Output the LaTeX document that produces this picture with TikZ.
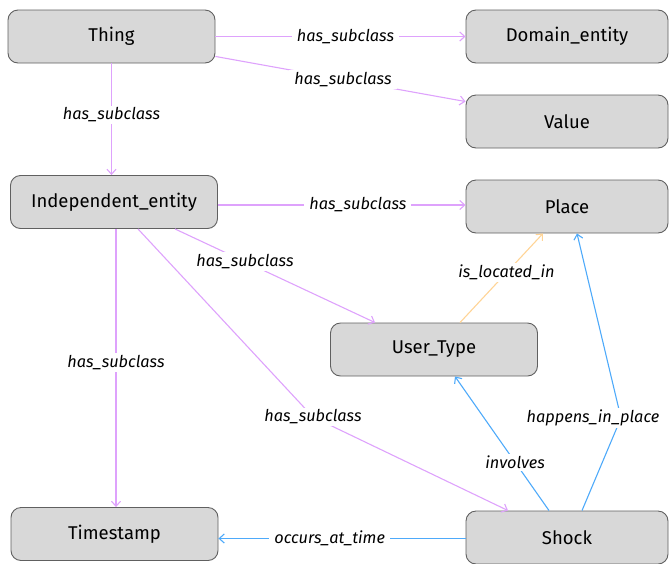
\documentclass[tikz,border=0pt]{standalone}
\usepackage{fontspec}
\setmainfont{Fira Sans}
\usetikzlibrary{arrows.meta}

\definecolor{boxgray}{RGB}{216,216,216}
\definecolor{boxline}{RGB}{96,96,96}
\definecolor{subviolet}{RGB}{222,162,252}
\definecolor{relblue}{RGB}{78,170,250}
\definecolor{locorange}{RGB}{255,212,150}

\tikzset{
  cls/.style={draw=boxline, fill=boxgray, line width=0.9pt, rounded corners=10pt,
              minimum width=207pt, minimum height=53pt, font=\fontsize{18.5}{20}\selectfont},
  rcls/.style={cls, minimum width=202pt},
  rel/.style={line width=1.1pt, -{Straight Barb[length=5pt,width=9pt]}},
  sub/.style={rel, subviolet},
  lbl/.style={fill=white, text=black, inner xsep=5pt, inner ysep=2pt,
              font=\fontsize{16.3}{18}\selectfont\itshape}
}

\begin{document}
\begin{tikzpicture}[x=1pt, y=-1pt]
    \useasboundingbox (0,0) rectangle (669,563);

    % --- classes ---
    \node[cls]  (thing)  at (111.5, 36.5) {Thing};
    \node[rcls] (domain) at (567, 36.5)   {Domain\_entity};
    \node[rcls] (value)  at (567, 121.5)  {Value};
    \node[cls]  (indep)  at (114, 202)    {Independent\_entity};
    \node[rcls] (place)  at (567, 206.5)  {Place};
    \node[cls]  (user)   at (434, 349.5)  {User\_Type};
    \node[cls]  (stamp)  at (114.5, 534)  {Timestamp};
    \node[rcls] (shock)  at (567, 537.5)  {Shock};

    % --- bend points ---
    \coordinate (kneeA) at (313, 417);
    \coordinate (kneeB) at (621, 418);

    % --- has_subclass (violet) ---
    \draw[sub] (thing.east) -- (thing.east -| domain.west)
        node[lbl, pos=0.52] {has\_subclass};
    \draw[sub] ([yshift=7pt]thing.south east) -- ([yshift=-7pt]value.north west)
        node[lbl, pos=0.51] {has\_subclass};
    \draw[sub] (thing.south) -- (thing.south |- indep.north)
        node[lbl, pos=0.46] {has\_subclass};
    \draw[sub] ([yshift=-3pt]indep.east) -- ([yshift=-3pt]indep.east -| place.west)
        node[lbl, pos=0.565] {has\_subclass};
    \draw[sub] ([xshift=61pt]indep.south) -- ([xshift=-59pt]user.north)
        node[lbl, pos=0.35] {has\_subclass};
    \draw[sub] ([xshift=2pt]indep.south) -- ([xshift=2pt]indep.south |- stamp.north)
        node[lbl, pos=0.48] {has\_subclass};
    \draw[sub] ([xshift=24pt]indep.south) -- (kneeA)
        node[lbl] {has\_subclass} -- ([xshift=-59pt]shock.north);

    % --- other relations ---
    \draw[rel, locorange] ([xshift=26pt]user.north) -- ([xshift=-24pt]place.south)
        node[lbl, pos=0.56] {is\_located\_in};
    \draw[rel, relblue] ([xshift=-18pt]shock.north) -- ([xshift=21pt]user.south)
        node[lbl, pos=0.36] {involves};
    \draw[rel, relblue] ([xshift=15pt]shock.north) -- (kneeB)
        node[lbl, xshift=-28pt] {happens\_in\_place} -- ([xshift=10pt]place.south);
    \draw[rel, relblue] ([yshift=-1pt]shock.west) -- ([yshift=-1pt]shock.west -| stamp.east)
        node[lbl, pos=0.55] {occurs\_at\_time};
\end{tikzpicture}
\end{document}
